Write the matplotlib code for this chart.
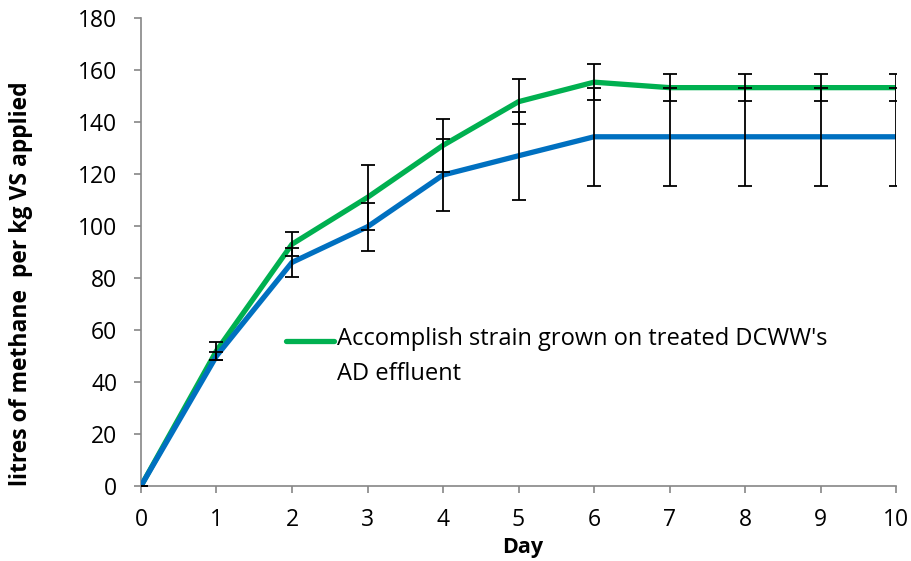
import matplotlib
matplotlib.use('Agg')
import matplotlib.pyplot as plt

days = [0, 1, 2, 3, 4, 5, 6, 7, 8, 9, 10]

green_vals = [0, 52, 93, 111, 131, 147.8, 155.3, 153.2, 153.2, 153.2, 153.2]
green_err = [0, 3.5, 4.7, 12.5, 10.2, 8.6, 7, 5.2, 5.2, 5.2, 5.2]

blue_vals = [0, 50, 86, 99.7, 119.6, 127, 134.3, 134.3, 134.3, 134.3, 134.3]
blue_err = [0, 1.5, 5.5, 9.3, 14, 17, 18.8, 18.8, 18.8, 18.8, 18.8]

green_label = "Accomplish strain grown on treated DCWW's\nAD effluent"

plt.rcParams['font.family'] = ['Open Sans', 'DejaVu Sans']

fig = plt.figure(figsize=(9.12, 5.61), dpi=100)
ax = fig.add_axes([0.1546, 0.1337, 0.8279, 0.8343])

ax.plot(days, green_vals, color='#00B050', linewidth=3.8, label=green_label,
        solid_capstyle='round', zorder=2)
ax.plot(days, blue_vals, color='#0070C0', linewidth=3.8, zorder=3)
ax.errorbar(days, green_vals, yerr=green_err, fmt='none', ecolor='black',
            elinewidth=1.3, capsize=5, capthick=1.3, zorder=4)
ax.errorbar(days, blue_vals, yerr=blue_err, fmt='none', ecolor='black',
            elinewidth=1.3, capsize=5, capthick=1.3, zorder=4)

ax.set_xlim(0, 10)
ax.set_ylim(0, 180)
ax.set_xticks(range(0, 11))
ax.set_yticks(range(0, 181, 20))

for s in ['top', 'right']:
    ax.spines[s].set_visible(False)
for s in ['left', 'bottom']:
    ax.spines[s].set_color('#868686')
    ax.spines[s].set_linewidth(1.2)
ax.tick_params(direction='out', length=5, width=1.2, color='#868686',
               labelsize=16.5, labelcolor='black')
ax.tick_params(axis='y', pad=12)
ax.tick_params(axis='x', pad=11)
ax.spines['bottom'].set_zorder(1)

ax.set_xlabel('Day', fontsize=15.5, fontweight='bold')
ax.xaxis.set_label_coords(0.505, -0.11)
ax.set_ylabel('litres of methane  per kg VS applied', fontsize=16.5,
              fontweight='bold')
ax.yaxis.set_label_coords(-0.143, 0.432)

leg = ax.legend(loc='upper left', bbox_to_anchor=(0.18, 0.36), frameon=False,
                fontsize=17, handlelength=2.0, handletextpad=0.15,
                borderaxespad=0)
for t in leg.get_texts():
    t.set_linespacing(1.6)
# line sample sits next to the first line of the label, as in the original
h = leg.legend_handles[0]
h.set_ydata([v + 11.5 for v in h.get_ydata()])

fig.savefig('out.png', dpi=100)
